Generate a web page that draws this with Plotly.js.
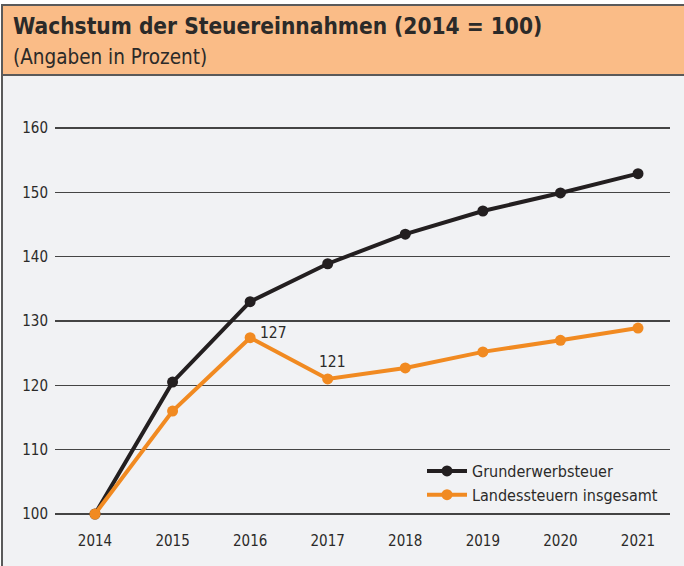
<!DOCTYPE html>
<html>
<head>
<meta charset="utf-8">
<script src="https://cdn.plot.ly/plotly-3.0.1.min.js"></script>
<style>html,body{margin:0;padding:0;background:#fff;}#chart{width:684px;height:566px;}</style>
</head>
<body>
<div id="chart"></div>
<script>
const years = [2014, 2015, 2016, 2017, 2018, 2019, 2020, 2021];
const grunderwerbsteuer = [100, 120.5, 133.0, 138.9, 143.5, 147.1, 149.9, 152.9];
const landessteuern = [100, 116.0, 127.4, 121.0, 122.7, 125.2, 127.0, 128.9];
const seriesNames = ["Grunderwerbsteuer", "Landessteuern insgesamt"];
const yTicks = [100, 110, 120, 130, 140, 150, 160];
const labelledPoints = [{x: 2016, y: 127.4, text: "127"}, {x: 2017, y: 121.0, text: "121"}];

const W = 684, H = 566, L = 55, R = 14, T = 100, B = 36;
const pw = W - L - R, ph = H - T - B;
const px = v => (v - L) / pw;
const py = v => (H - B - v) / ph;

const FONT = '"Liberation Sans Narrow", "DejaVu Sans Condensed", "Roboto Condensed", sans-serif';
const TXT = '#2b2a29';

const traces = [
  {x: years, y: grunderwerbsteuer, name: seriesNames[0], type: 'scatter', mode: 'lines+markers',
   line: {color: '#231f20', width: 4}, marker: {color: '#231f20', size: 11}},
  {x: years, y: landessteuern, name: seriesNames[1], type: 'scatter', mode: 'lines+markers',
   line: {color: '#f18a21', width: 4}, marker: {color: '#f18a21', size: 11}}
];

const layout = {
  width: W, height: H,
  margin: {l: L, r: R, t: T, b: B},
  paper_bgcolor: '#ffffff',
  plot_bgcolor: 'rgba(0,0,0,0)',
  font: {family: FONT, color: TXT, size: 15},
  showlegend: true,
  legend: {x: px(422), y: py(454), xanchor: 'left', yanchor: 'top', bgcolor: 'rgba(0,0,0,0)',
           font: {family: FONT, size: 16, color: TXT}, tracegroupgap: 0, itemwidth: 40},
  xaxis: {range: [2014 - 40 / 77.57, 2021 + 32 / 77.57], tickvals: years, ticktext: years.map(String),
          showgrid: false, zeroline: false, showline: false, ticks: '', tickfont: {size: 15, color: TXT}},
  yaxis: {range: [100 - 16 / 6.433, 160 + 28 / 6.433], tickvals: yTicks, ticktext: yTicks.map(String),
          showgrid: true, gridcolor: '#444444', gridwidth: 1.2, zeroline: false, showline: false, ticks: '',
          ticklabelstandoff: 6, tickfont: {size: 15, color: TXT}},
  shapes: [
    {type: 'rect', xref: 'paper', yref: 'paper', x0: px(2), x1: px(700), y0: py(600), y1: py(5),
     fillcolor: '#f1f2f4', line: {color: '#5a5a5a', width: 2}, layer: 'below'},
    {type: 'rect', xref: 'paper', yref: 'paper', x0: px(2), x1: px(700), y0: py(75), y1: py(5),
     fillcolor: '#fabc87', line: {color: '#5a5a5a', width: 2}, layer: 'below'}
  ],
  annotations: [
    {xref: 'paper', yref: 'paper', x: px(11), y: py(26), xanchor: 'left', yanchor: 'middle', showarrow: false,
     text: '<b>Wachstum der Steuereinnahmen (2014 = 100)</b>', font: {family: FONT, size: 22.5, color: TXT}},
    {xref: 'paper', yref: 'paper', x: px(11), y: py(57), xanchor: 'left', yanchor: 'middle', showarrow: false,
     text: '(Angaben in Prozent)', font: {family: FONT, size: 20.5, color: TXT}}
  ].concat(labelledPoints.map((p, i) => ({
     x: p.x, y: p.y, xref: 'x', yref: 'y', text: p.text, showarrow: false,
     xanchor: i === 0 ? 'left' : 'center', yanchor: 'bottom',
     xshift: i === 0 ? 8 : 5, yshift: i === 0 ? -6 : 6,
     font: {family: FONT, size: 15.5, color: TXT}})))
};

Plotly.newPlot('chart', traces, layout, {displayModeBar: false, staticPlot: true});
</script>
</body>
</html>
